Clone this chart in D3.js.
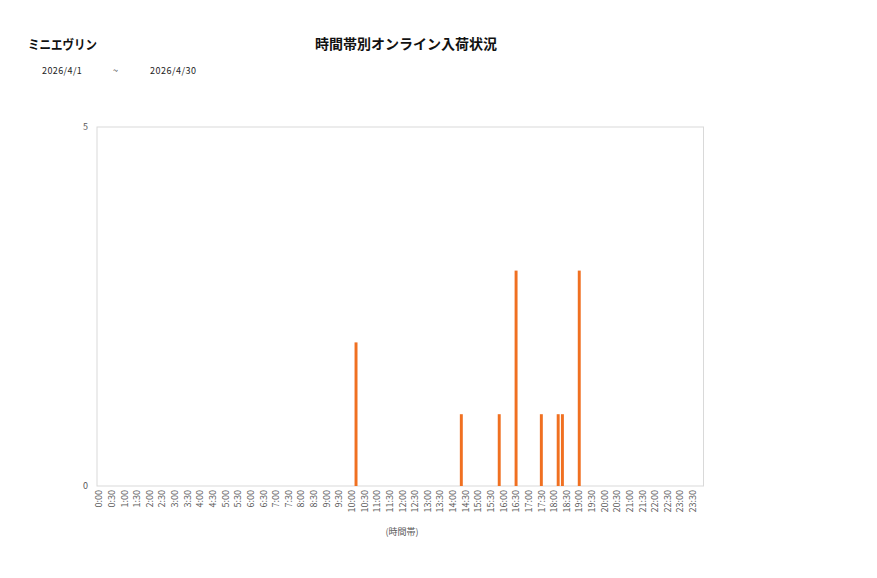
<!DOCTYPE html>
<html>
<head>
<meta charset="utf-8">
<script src="https://cdn.jsdelivr.net/npm/d3@7"></script>
<style>
  body { margin: 0; background: #fff; }
  text { font-family: "Noto Sans CJK JP", "Noto Sans", sans-serif; }
</style>
</head>
<body>
<svg id="chart" width="877" height="578"></svg>
<script>
// chart data
const storeName = 'ミニエヴリン';
const chartTitle = '時間帯別オンライン入荷状況';
const dateFrom = '2026/4/1';
const dateTo = '2026/4/30';

// 10 minute slots, values only where something arrived
const hitTimes = ['10:10', '14:20', '15:50', '16:30', '17:30', '18:10', '18:20', '19:00'];
const hitCounts = [2, 1, 1, 3, 1, 1, 1, 3];

const tickLabels = ['0:00','0:30','1:00','1:30','2:00','2:30','3:00','3:30','4:00','4:30',
  '5:00','5:30','6:00','6:30','7:00','7:30','8:00','8:30','9:00','9:30',
  '10:00','10:30','11:00','11:30','12:00','12:30','13:00','13:30','14:00','14:30',
  '15:00','15:30','16:00','16:30','17:00','17:30','18:00','18:30','19:00','19:30',
  '20:00','20:30','21:00','21:30','22:00','22:30','23:00','23:30'];
const yTicks = [0, 5];

const toMin = s => { let p = s.split(':'); return +p[0] * 60 + +p[1]; };
const slots = d3.range(0, 1440, 10);
const series = slots.map(m => {
  let i = hitTimes.findIndex(t => toMin(t) === m);
  return { m: m, v: i < 0 ? 0 : hitCounts[i] };
});

const svg = d3.select('#chart');
const plotL = 97, plotR = 703.5, plotT = 127, plotB = 486;

let x = d3.scaleBand().domain(slots).range([plotL, plotR]).paddingInner(0.3).paddingOuter(0.15);
let y = d3.scaleLinear().domain([0, 5]).range([plotB, plotT]);

// plot frame
svg.append('rect')
  .attr('x', plotL).attr('y', plotT)
  .attr('width', plotR - plotL).attr('height', plotB - plotT)
  .attr('fill', 'none').attr('stroke', '#d9d9d9').attr('stroke-width', 1);

// bars
svg.append('g').selectAll('rect')
  .data(series.filter(d => d.v > 0))
  .enter()
  .append('rect')
  .attr('x', d => x(d.m))
  .attr('y', d => y(d.v))
  .attr('width', x.bandwidth())
  .attr('height', d => y(0) - y(d.v))
  .attr('fill', '#f07021');

// y axis labels only
let yAxis = d3.axisLeft(y).tickValues(yTicks).tickSize(0).tickPadding(9).tickFormat(d3.format('d'));
let gy = svg.append('g').attr('transform', `translate(${plotL},0)`).call(yAxis);
gy.select('.domain').remove();
gy.selectAll('text').attr('fill', '#595959').style('font-size', '9px');

// x axis, a label every 30 minutes
let xAxis = d3.axisBottom(x)
  .tickValues(slots.filter(m => m % 30 === 0))
  .tickSize(0)
  .tickFormat(m => tickLabels[m / 30]);
let gx = svg.append('g').attr('transform', `translate(0,${plotB})`).call(xAxis);
gx.select('.domain').remove();
gx.selectAll('text')
  .attr('fill', '#595959')
  .style('font-size', '9px')
  .attr('transform', 'rotate(-90)')
  .attr('text-anchor', 'end')
  .attr('x', -4)
  .attr('y', 0)
  .attr('dy', '0.35em');

svg.append('text')
  .attr('x', 402).attr('y', 535)
  .attr('text-anchor', 'middle')
  .attr('fill', '#595959')
  .style('font-size', '9px')
  .text('(時間帯)');

// headers
svg.append('text')
  .attr('x', 28).attr('y', 49)
  .style('font-size', '13px').style('font-weight', 'bold')
  .attr('fill', '#111')
  .attr('textLength', 69).attr('lengthAdjust', 'spacingAndGlyphs')
  .text(storeName);

svg.append('text')
  .attr('x', 406).attr('y', 49)
  .attr('text-anchor', 'middle')
  .style('font-size', '14px').style('font-weight', 'bold')
  .attr('fill', '#111')
  .text(chartTitle);

svg.append('text').attr('x', 42).attr('y', 74).style('font-size', '9px').style('letter-spacing', '0.4px').attr('fill', '#222').text(dateFrom);
svg.append('text').attr('x', 113).attr('y', 74).style('font-size', '9px').attr('fill', '#222').text('~');
svg.append('text').attr('x', 150).attr('y', 74).style('font-size', '9px').style('letter-spacing', '0.5px').attr('fill', '#222').text(dateTo);
</script>
</body>
</html>
